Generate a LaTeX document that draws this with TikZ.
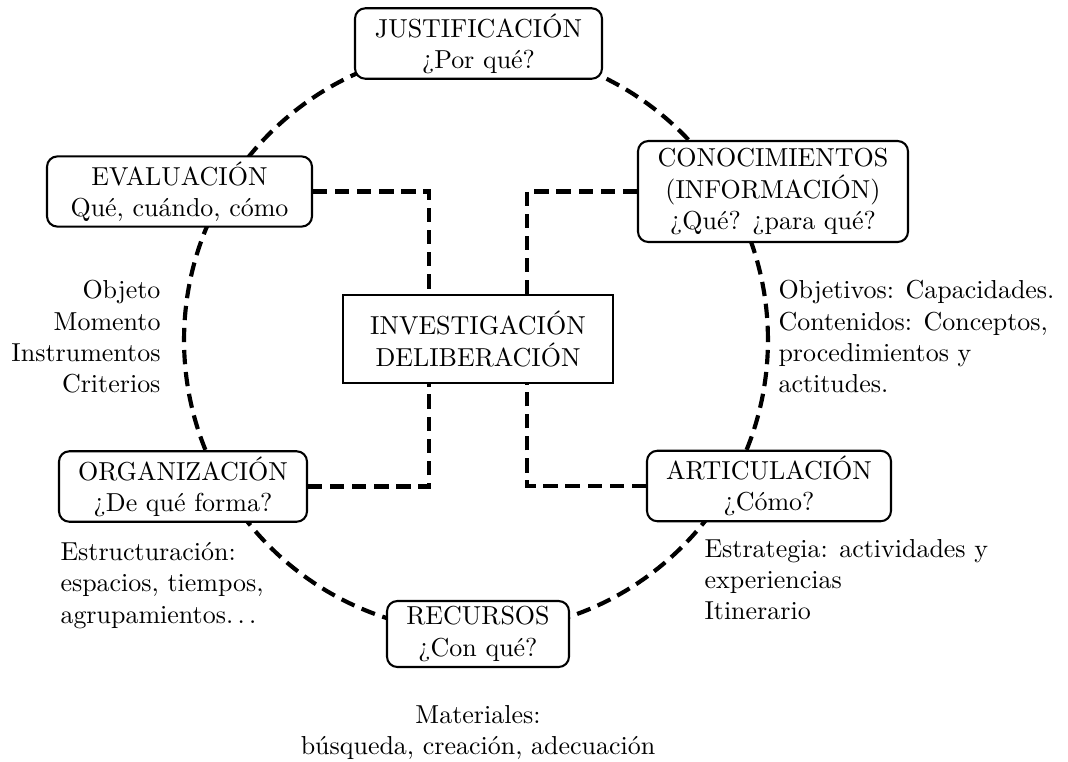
\documentclass[tikz,border=0pt]{standalone}
\usepackage{fontspec}
\tikzset{
  conn/.style={line width=1.6pt, dash pattern=on 5.5pt off 3pt},
  box/.style={draw, thick, rounded corners=4pt, fill=white, align=center, inner sep=2pt},
  sqbox/.style={draw, thick, fill=white, align=center, inner sep=2pt},
  sz/.style 2 args={minimum width=#1*0.385pt, minimum height=#2*0.385pt},
  lbl/.style={inner sep=0pt}
}
\newcommand{\spdots}{.\kern.1667em.\kern.1667em.}
\begin{document}
\begin{tikzpicture}[x=0.385pt,y=-0.385pt]
\useasboundingbox (0,0) rectangle (1068,761);
\coordinate (cen) at (476,340);
\draw[conn] (cen) circle[radius=112.4pt];
\node[box, sz={247}{69}] (J) at (478.5,43.5) {JUSTIFICACIÓN\\¿Por qué?};
\node[box, sz={265}{69}] (E) at (179.5,191.5) {EVALUACIÓN\\Qué, cuándo, cómo};
\node[box, sz={270}{101}] (C) at (773,191.5) {CONOCIMIENTOS\\(INFORMACIÓN)\\¿Qué? ¿para qué?};
\node[sqbox, sz={270}{88}] (I) at (478,339) {INVESTIGACIÓN\\DELIBERACIÓN};
\node[box, sz={248}{69}] (O) at (183,486.5) {ORGANIZACIÓN\\¿De qué forma?};
\node[box, sz={244}{68}] (A) at (769,486) {ARTICULACIÓN\\¿Cómo?};
\node[box, sz={182}{66}] (R) at (478,634) {RECURSOS\\¿Con qué?};
\node[lbl, anchor=north east, align=right] (evtxt) at (161,280) {Objeto\\Momento\\Instrumentos\\Criterios};
\node[lbl, anchor=north west, align=left] (cotxt) at (778,280) {Objetivos: Capacidades.\\Contenidos: Conceptos,\\procedimientos y\\actitudes.};
\node[lbl, anchor=north west, align=left] (ortxt) at (60,542) {Estructuración:\\espacios, tiempos,\\agrupamientos\spdots};
\node[lbl, anchor=north west, align=left] (artxt) at (704,539) {Estrategia: actividades y\\experiencias\\Itinerario};
\node[lbl, anchor=north, align=center] (retxt) at (478,705) {Materiales:\\búsqueda, creación, adecuación};
\coordinate (lx) at (429,339);
\coordinate (rx) at (527,339);
\draw[conn] (E.east) -| (lx |- I.north);
\draw[conn] (C.west) -| (rx |- I.north);
\draw[conn] (O.east) -| (lx |- I.south);
\draw[conn] (A.west) -| (rx |- I.south);
\end{tikzpicture}
\end{document}
